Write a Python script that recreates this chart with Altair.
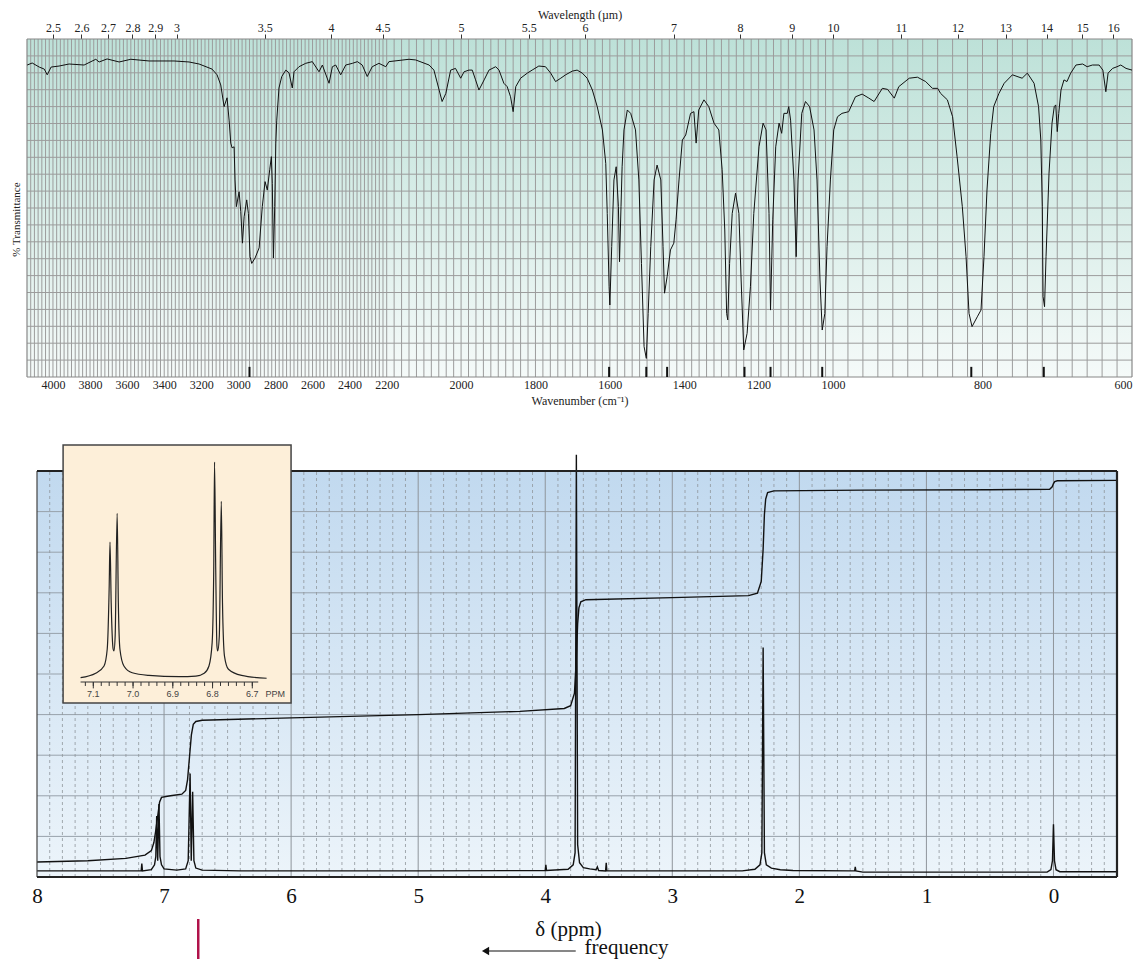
import altair as alt
import pandas as pd

SERIF = "Liberation Serif"
SANS = "Liberation Sans"

# ------------------------------------------------------------------ IR data
ir_wavenumber = [
    4139, 4112, 4074, 4047, 4031, 4010, 3967, 3913, 3832, 3769,
    3751, 3708, 3643, 3580, 3481, 3347, 3266, 3212, 3142, 3115,
    3095, 3077, 3061, 3050, 3041, 3034, 3023, 3018, 3011, 2996,
    2987, 2978, 2969, 2955, 2946, 2937, 2928, 2910, 2888, 2871,
    2856, 2844, 2831, 2822, 2817, 2811, 2804, 2798, 2793, 2781,
    2766, 2744, 2727, 2709, 2700, 2673, 2637, 2601, 2565, 2547,
    2511, 2493, 2475, 2448, 2421, 2385, 2358, 2332, 2305, 2278,
    2242, 2205, 2194, 2140, 2122, 2086, 2073, 2059, 2051, 2041,
    2028, 2015, 2001, 1992, 1979, 1970, 1961, 1952, 1938, 1925,
    1907, 1898, 1885, 1876, 1867, 1860, 1853, 1840, 1822, 1809,
    1791, 1773, 1759, 1746, 1732, 1719, 1701, 1688, 1674, 1661,
    1647, 1634, 1620, 1611, 1607, 1602, 1600, 1595, 1589, 1583,
    1577, 1574, 1570, 1567, 1562, 1553, 1544, 1531, 1522, 1515,
    1508, 1502, 1497, 1490, 1481, 1473, 1463, 1457, 1453, 1446,
    1437, 1428, 1422, 1414, 1405, 1396, 1383, 1374, 1368, 1361,
    1347, 1334, 1320, 1307, 1298, 1291, 1286, 1283, 1278, 1271,
    1262, 1253, 1247, 1240, 1231, 1222, 1213, 1199, 1188, 1180,
    1172, 1168, 1162, 1154, 1145, 1138, 1132, 1123, 1119, 1114,
    1105, 1099, 1094, 1084, 1074, 1063, 1051, 1043, 1035, 1029,
    1022, 1016, 1007, 999, 994, 988, 979, 970, 961, 952,
    945, 934, 927, 918, 912, 898, 887, 876, 867, 860,
    856, 847, 840, 834, 827, 822, 818, 814, 807, 802,
    798, 794, 789, 785, 778, 771, 760, 747, 740, 731,
    725, 722, 720, 719, 717, 715, 711, 707, 704, 702,
    700, 698, 695, 691, 687, 682, 675, 666, 660, 653,
    644, 639, 635, 632, 626, 620, 615, 608, 600,
]
ir_transmittance = [
    92.3, 92.9, 91.7, 91.1, 89.4, 91.7, 92.0, 92.6, 92.3, 94.0,
    93.2, 94.1, 93.2, 94.0, 93.5, 93.5, 93.2, 92.6, 91.1, 89.4,
    86.4, 80.0, 82.6, 76.0, 69.2, 67.8, 68.1, 58.3, 50.4, 54.8,
    48.9, 39.6, 47.4, 52.4, 48.4, 35.6, 33.6, 35.2, 38.2, 50.4,
    57.8, 55.3, 61.3, 65.2, 57.3, 35.2, 50.4, 69.2, 76.0, 85.5,
    88.9, 90.8, 90.0, 85.5, 90.3, 91.8, 92.8, 93.3, 90.3, 92.3,
    86.9, 91.8, 92.3, 89.4, 92.3, 92.8, 93.3, 92.3, 88.9, 91.8,
    92.8, 91.8, 93.3, 94.0, 93.8, 92.3, 90.8, 84.9, 81.5, 83.9,
    90.8, 91.3, 88.4, 90.3, 90.8, 90.8, 87.9, 84.9, 87.9, 90.8,
    91.8, 90.8, 86.9, 85.9, 82.9, 78.5, 85.9, 88.4, 89.9, 90.8,
    92.0, 91.8, 89.9, 87.4, 88.4, 89.4, 90.5, 90.8, 89.9, 88.4,
    84.9, 80.0, 73.1, 63.2, 48.4, 26.7, 21.3, 38.6, 58.3, 62.2,
    50.4, 34.1, 50.4, 62.2, 73.1, 79.0, 78.0, 73.1, 58.3, 33.6,
    9.0, 5.5, 18.8, 38.6, 58.3, 62.7, 58.3, 38.6, 24.8, 29.7,
    37.6, 39.6, 46.5, 58.3, 70.1, 71.6, 78.0, 78.5, 69.2, 79.0,
    82.0, 80.0, 75.1, 73.1, 61.3, 43.5, 18.8, 16.9, 33.6, 48.4,
    54.4, 48.4, 28.7, 8.0, 12.9, 26.7, 48.4, 68.1, 75.1, 73.1,
    48.4, 19.8, 46.5, 68.1, 75.1, 72.1, 78.0, 78.0, 80.0, 76.0,
    58.3, 35.6, 58.3, 78.0, 81.5, 80.0, 73.1, 58.3, 28.7, 13.9,
    18.8, 38.6, 58.3, 73.1, 77.0, 78.0, 78.5, 82.9, 83.7, 82.5,
    81.5, 85.4, 85.1, 82.5, 85.9, 88.4, 88.7, 87.4, 85.4, 85.4,
    83.9, 82.0, 77.0, 65.2, 50.4, 35.6, 18.8, 14.9, 17.8, 19.8,
    35.6, 55.3, 72.1, 80.0, 83.9, 86.9, 89.4, 88.4, 89.9, 86.9,
    80.0, 70.1, 50.4, 23.8, 20.8, 35.6, 60.3, 75.1, 80.0, 80.5,
    72.6, 78.0, 84.9, 87.9, 87.4, 89.9, 92.3, 92.6, 91.8, 92.3,
    92.3, 90.8, 84.4, 89.9, 91.3, 91.8, 92.3, 91.3, 90.8,
]
ir_peak_markers = [2940, 1602, 1502, 1446, 1238, 1168, 1029, 815, 718]
ir_wavenumber_labels = [4000, 3800, 3600, 3400, 3200, 3000, 2800, 2600, 2400, 2200,
                        2000, 1800, 1600, 1400, 1200, 1000, 800, 600]
ir_wavelength_labels = [2.5, 2.6, 2.7, 2.8, 2.9, 3, 3.5, 4, 4.5, 5, 5.5, 6, 7, 8, 9,
                        10, 11, 12, 13, 14, 15, 16]

# ------------------------------------------------------------------ NMR data
nmr_ppm = [8.0, 7.3, 7.18, 7.175, 7.17, 7.10, 7.075, 7.065, 7.058, 7.05,
           7.04, 7.032, 7.02, 7.0, 6.9, 6.83, 6.81, 6.795, 6.786, 6.775,
           6.765, 6.75, 6.7, 6.4, 5.0, 4.0, 3.995, 3.99, 3.82, 3.78,
           3.765, 3.755, 3.745, 3.73, 3.70, 3.65, 3.60, 3.59, 3.58, 3.525,
           3.52, 3.515, 3.0, 2.45, 2.35, 2.31, 2.295, 2.285, 2.275, 2.26,
           2.22, 2.15, 2.05, 1.6, 1.565, 1.56, 1.555, 1.5, 0.05, 0.02,
           0.008, 0.0, -0.008, -0.02, -0.05, -0.5]
nmr_intensity = [1.5, 1.5, 1.5, 3.3, 1.5, 1.8, 3.0, 5.0, 15.0, 4.0,
                 18.0, 5.0, 3.0, 2.0, 1.7, 2.0, 4.0, 25.5, 4.0, 21.0,
                 4.0, 2.2, 1.7, 1.5, 1.5, 1.6, 3.0, 1.6, 1.9, 3.0,
                 6.0, 104.0, 8.0, 3.5, 2.3, 2.0, 1.8, 2.5, 1.6, 1.5,
                 3.5, 1.5, 1.5, 1.5, 1.9, 3.0, 6.0, 56.5, 6.0, 3.0,
                 2.2, 1.8, 1.6, 1.5, 1.5, 2.5, 1.5, 1.2, 1.2, 1.8,
                 4.0, 13.0, 4.0, 1.8, 1.3, 1.3]
integral_ppm = [8.0, 7.6, 7.3, 7.15, 7.10, 7.08, 7.065, 7.05, 7.035, 7.02,
                6.95, 6.86, 6.83, 6.815, 6.80, 6.785, 6.77, 6.75, 6.70, 6.0,
                5.0, 4.2, 3.85, 3.80, 3.77, 3.755, 3.745, 3.735, 3.72, 3.68,
                3.0, 2.40, 2.33, 2.30, 2.285, 2.275, 2.265, 2.25, 2.20, 1.5,
                0.5, 0.03, 0.01, 0.0, -0.01, -0.03, -0.5]
integral_value = [3.7, 4.0, 4.6, 5.4, 6.5, 8.5, 11.5, 15.0, 18.5, 19.6,
                  20.0, 20.4, 21.3, 24.0, 29.5, 35.0, 37.6, 38.3, 38.6, 39.2,
                  40.0, 40.8, 41.5, 42.2, 45.3, 53.8, 62.3, 66.3, 67.8, 68.3,
                  68.8, 69.3, 69.9, 72.8, 80.8, 89.3, 93.1, 94.7, 95.1, 95.3,
                  95.4, 95.5, 96.1, 96.9, 97.4, 97.6, 97.7]
nmr_axis_labels = [8, 7, 6, 5, 4, 3, 2, 1, 0]

inset_ppm = [7.132, 7.094, 7.073, 7.065, 7.060, 7.058, 7.055, 7.050, 7.048, 7.045,
             7.040, 7.037, 7.033, 7.023, 7.002, 6.960, 6.884, 6.842, 6.821, 6.809,
             6.801, 6.797, 6.795, 6.792, 6.789, 6.787, 6.783, 6.778, 6.775, 6.770,
             6.760, 6.727, 6.664]
inset_intensity = [2.0, 4.0, 7.3, 14.9, 43.6, 63.6, 36.0, 14.9, 14.1, 20.9,
                   76.7, 36.0, 14.9, 7.3, 4.2, 3.0, 2.4, 2.7, 4.0, 7.3,
                   17.9, 51.2, 100.0, 51.2, 16.4, 14.1, 20.9, 82.1, 36.0, 11.8,
                   5.8, 3.0, 1.7]
inset_tick_labels = [7.1, 7.0, 6.9, 6.8, 6.7]

# ------------------------------------------------------------------ IR chart
IR_W, IR_H = 1105, 338
ir_xscale = alt.Scale(domain=[4140, 2200, 1000, 600], range=[0, 359.7, 806, IR_W],
                      nice=False, zero=False)
ir_yscale = alt.Scale(domain=[0, 100], nice=False, zero=False)


def ir_x(field="wn", axis=None):
    return alt.X(f"{field}:Q", scale=ir_xscale, axis=axis)


def ir_y(field="t", axis=None):
    return alt.Y(f"{field}:Q", scale=ir_yscale, axis=axis)


ir_grad = alt.LinearGradient(
    gradient="linear",
    stops=[alt.GradientStop(color="#bde1d8", offset=0),
           alt.GradientStop(color="#f5faf9", offset=1)],
    x1=0, x2=0, y1=0, y2=1)

ir_bg = alt.Chart(pd.DataFrame({"wn": [4140], "wn2": [600], "t": [0], "t2": [100]})).mark_rect(
    fill=ir_grad).encode(x=ir_x(), x2="wn2:Q", y=ir_y(), y2="t2:Q")

ir_hgrid = alt.Chart(pd.DataFrame({"t": list(range(5, 100, 5)), "wn": 4140, "wn2": 600})).mark_rule(
    color="#9c9c9c", strokeWidth=1).encode(x=ir_x(), x2="wn2:Q", y=ir_y())

top_axis = alt.Axis(
    orient="top", values=[10000 / u for u in ir_wavelength_labels],
    labelExpr="format(10000 / datum.value, '.1~f')",
    ticks=True, tickSize=5, tickColor="#333", tickWidth=1, domain=False, grid=False,
    labelPadding=0, labelFontSize=12, labelFont=SERIF, labelColor="#222",
    labelOverlap=False, labelFlush=False,
    title="Wavelength (µm)", titleFontSize=12, titleFont=SERIF, titleFontWeight="normal",
    titlePadding=0, titleColor="#222")

ir_vgrid = alt.Chart(pd.DataFrame({"wn": list(range(620, 4140, 20)), "t": 0, "t2": 100})).mark_rule(
    color="#9c9c9c", strokeWidth=1).encode(x=ir_x(axis=top_axis), y=ir_y(), y2="t2:Q")

ir_vborder = alt.Chart(pd.DataFrame({"wn": [4140, 600], "t": 0, "t2": 100})).mark_rule(
    color="#888", strokeWidth=1.2).encode(x=ir_x(), y=ir_y(), y2="t2:Q")
ir_hborder = alt.Chart(pd.DataFrame({"t": [0, 100], "wn": 4140, "wn2": 600})).mark_rule(
    color="#888", strokeWidth=1.2).encode(x=ir_x(), x2="wn2:Q", y=ir_y())

ir_markers = alt.Chart(pd.DataFrame({"wn": ir_peak_markers, "t": 0, "t2": 3})).mark_rule(
    color="#111", strokeWidth=2).encode(x=ir_x(), y=ir_y(), y2="t2:Q")

bottom_axis = alt.Axis(
    orient="bottom", values=ir_wavenumber_labels, format="d", ticks=False, domain=False,
    grid=False, labelPadding=2, labelFontSize=12, labelFont=SERIF, labelColor="#222",
    labelOverlap=False, title="Wavenumber (cm⁻¹)", titleFontSize=12, titleFont=SERIF,
    titleFontWeight="normal", titlePadding=5, titleColor="#222")
y_axis = alt.Axis(
    orient="left", title="% Transmittance", labels=False, ticks=False, domain=False, grid=False,
    titleFontSize=11, titleFont=SERIF, titleFontWeight="normal", titlePadding=6,
    titleColor="#222", titleY=180, minExtent=0, maxExtent=0)

ir_df = pd.DataFrame({"wn": ir_wavenumber, "t": ir_transmittance,
                      "i": list(range(len(ir_wavenumber)))})
ir_line = alt.Chart(ir_df).mark_line(color="#111", strokeWidth=1).encode(
    x=ir_x(axis=bottom_axis), y=ir_y(axis=y_axis), order="i:Q")

ir_chart = alt.layer(ir_bg, ir_hgrid, ir_vgrid, ir_vborder, ir_hborder, ir_markers, ir_line
                     ).resolve_axis(x="independent", y="independent"
                                    ).properties(width=IR_W, height=IR_H)

# ------------------------------------------------------------------ NMR chart
# the NMR panel shares the IR panel's left edge; its frame starts 10 px further in
NMR_W, NMR_H = 1090, 406
NMR_X0, NMR_X1 = 10, 1090
nmr_xscale = alt.Scale(domain=[8, -0.5], range=[NMR_X0, NMR_X1], nice=False, zero=False)
nmr_yscale = alt.Scale(domain=[0, 100], nice=False, zero=False)


def nx(field="ppm", axis=None):
    return alt.X(f"{field}:Q", scale=nmr_xscale, axis=axis)


def ny(field="v", axis=None):
    return alt.Y(f"{field}:Q", scale=nmr_yscale, axis=axis)


nmr_grad = alt.LinearGradient(
    gradient="linear",
    stops=[alt.GradientStop(color="#c1d9ef", offset=0),
           alt.GradientStop(color="#ecf4fa", offset=1)],
    x1=0, x2=0, y1=0, y2=1)

nmr_bg = alt.Chart(pd.DataFrame({"ppm": [8], "ppm2": [-0.5], "v": [0], "v2": [100]})).mark_rect(
    fill=nmr_grad).encode(x=nx(), x2="ppm2:Q", y=ny(), y2="v2:Q")

nmr_y_axis = alt.Axis(orient="left", labels=False, ticks=False, domain=False, grid=False,
                      title=None, minExtent=17, maxExtent=17)
nmr_hgrid = alt.Chart(pd.DataFrame({"v": list(range(10, 100, 10)), "ppm": 8, "ppm2": -0.5})).mark_rule(
    color="#98a2ab", strokeWidth=1).encode(x=nx(), x2="ppm2:Q", y=ny(axis=nmr_y_axis))

minor_ppm = [round(8 - k * 0.1, 1) for k in range(1, 85) if k % 10 != 0]
nmr_vminor = alt.Chart(pd.DataFrame({"ppm": minor_ppm, "v": 0, "v2": 100})).mark_rule(
    color="#8f959b", strokeWidth=0.8, strokeDash=[3, 3]).encode(x=nx(), y=ny(), y2="v2:Q")
nmr_vmajor = alt.Chart(pd.DataFrame({"ppm": [7, 6, 5, 4, 3, 2, 1, 0], "v": 0, "v2": 100})).mark_rule(
    color="#8f959b", strokeWidth=1).encode(x=nx(), y=ny(), y2="v2:Q")

integral_df = pd.DataFrame({"ppm": integral_ppm, "v": integral_value,
                            "i": list(range(len(integral_ppm)))})
nmr_integral = alt.Chart(integral_df).mark_line(color="#111", strokeWidth=1.4).encode(
    x=nx(), y=ny(), order="i:Q")

nmr_x_axis = alt.Axis(
    orient="bottom", values=nmr_axis_labels, format="d", ticks=False, domain=False, grid=False,
    labelFlush=False, labelPadding=8, labelFontSize=21, labelFont=SERIF, labelColor="#111",
    title="δ (ppm)", titleFontSize=21, titleFont=SERIF, titleFontWeight="normal",
    titlePadding=12, titleColor="#111", titleX=541)
spec_df = pd.DataFrame({"ppm": nmr_ppm, "v": nmr_intensity, "i": list(range(len(nmr_ppm)))})
nmr_spec = alt.Chart(spec_df).mark_line(color="#111", strokeWidth=1.4).encode(
    x=nx(axis=nmr_x_axis), y=ny(), order="i:Q")

nmr_vborder_l = alt.Chart(pd.DataFrame({"ppm": [8], "v": 0, "v2": 100})).mark_rule(
    color="#444", strokeWidth=1.2).encode(x=nx(), y=ny(), y2="v2:Q")
nmr_vborder_r = alt.Chart(pd.DataFrame({"ppm": [-0.5], "v": 0, "v2": 100})).mark_rule(
    color="#222", strokeWidth=2.2).encode(x=nx(), y=ny(), y2="v2:Q")
nmr_hborder = alt.Chart(pd.DataFrame({"v": [0, 100], "ppm": 8, "ppm2": -0.5})).mark_rule(
    color="#222", strokeWidth=2).encode(x=nx(), x2="ppm2:Q", y=ny())

magenta = alt.Chart(pd.DataFrame({"ppm": [6.731]})).mark_rule(
    color="#b0124a", strokeWidth=2.5).encode(x=nx(), y=alt.value(448), y2=alt.value(488))
arrow_line = alt.Chart(pd.DataFrame({"ppm": [4.46], "ppm2": [3.76]})).mark_rule(
    color="#111", strokeWidth=1.2).encode(x=nx(), x2="ppm2:Q", y=alt.value(480))
arrow_head = alt.Chart(pd.DataFrame({"ppm": [4.47]})).mark_point(
    shape="triangle-left", filled=True, color="#111", size=70, opacity=1).encode(
    x=nx(), y=alt.value(480))
freq_text = alt.Chart(pd.DataFrame({"ppm": [3.69], "label": ["frequency"]})).mark_text(
    align="left", baseline="middle", font=SERIF, fontSize=21, color="#111").encode(
    x=nx(), y=alt.value(477), text="label:N")

nmr_main = alt.layer(nmr_bg, nmr_hgrid, nmr_vminor, nmr_vmajor, nmr_integral, nmr_spec,
                     nmr_vborder_l, nmr_vborder_r, nmr_hborder, magenta, arrow_line,
                     arrow_head, freq_text).resolve_axis(x="independent", y="independent")

# inset (its own scales, mapped into the upper-left corner of the NMR panel)
inset_xscale = alt.Scale(domain=[7.1, 6.7], range=[66.3, 225.3], nice=False, zero=False)
inset_yscale = alt.Scale(domain=[0, 100], range=[211, -9], nice=False, zero=False)


def ix(field="ppm"):
    return alt.X(f"{field}:Q", scale=inset_xscale, axis=None)


def iy(field="v"):
    return alt.Y(f"{field}:Q", scale=inset_yscale, axis=None)


inset_box = alt.Chart(pd.DataFrame({"ppm": [7.176], "ppm2": [6.6025], "v": [-9.5], "v2": [107.7]})).mark_rect(
    fill="#fdefd9", stroke="#444", strokeWidth=1.5).encode(x=ix(), x2="ppm2:Q", y=iy(), y2="v2:Q")
inset_axis_line = alt.Chart(pd.DataFrame({"ppm": [7.132], "ppm2": [6.685], "v": [0]})).mark_rule(
    color="#333", strokeWidth=1).encode(x=ix(), x2="ppm2:Q", y=iy())
minor_ticks = [round(7.12 - k * 0.02, 2) for k in range(0, 22)]
inset_minor = alt.Chart(pd.DataFrame({"ppm": minor_ticks, "v": 0, "v2": -1.8})).mark_rule(
    color="#333", strokeWidth=1).encode(x=ix(), y=iy(), y2="v2:Q")
inset_major = alt.Chart(pd.DataFrame({"ppm": inset_tick_labels, "v": 0, "v2": -2.9})).mark_rule(
    color="#333", strokeWidth=1).encode(x=ix(), y=iy(), y2="v2:Q")
inset_labels = alt.Chart(pd.DataFrame({"ppm": inset_tick_labels, "v": -5.6})).mark_text(
    font=SANS, fontSize=9, color="#444", baseline="middle").encode(
    x=ix(), y=iy(), text=alt.Text("ppm:Q", format=".1f"))
inset_ppm_label = alt.Chart(pd.DataFrame({"ppm": [6.642], "v": [-5.6], "label": ["PPM"]})).mark_text(
    font=SANS, fontSize=9, color="#444", baseline="middle").encode(
    x=ix(), y=iy(), text="label:N")
inset_df = pd.DataFrame({"ppm": inset_ppm, "v": inset_intensity, "i": list(range(len(inset_ppm)))})
inset_line = alt.Chart(inset_df).mark_line(color="#222", strokeWidth=1.2, interpolate="monotone").encode(
    x=ix(), y=iy(), order="i:Q")

nmr_inset = alt.layer(inset_box, inset_axis_line, inset_minor, inset_major, inset_labels,
                      inset_ppm_label, inset_line)

nmr_chart = alt.layer(nmr_main, nmr_inset).resolve_scale(
    x="independent", y="independent").properties(width=NMR_W, height=NMR_H)

chart = alt.vconcat(ir_chart, nmr_chart, spacing=38).properties(
    padding={"left": 2, "top": 0, "right": 0, "bottom": 0}
).configure_view(strokeWidth=0)

chart.save("out.html", embed_options={"renderer": "svg", "actions": False})
